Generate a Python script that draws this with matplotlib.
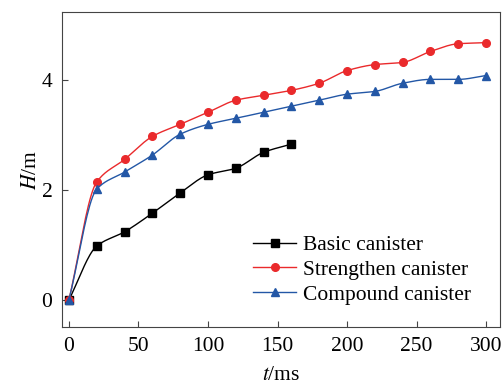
import numpy as np
import matplotlib
matplotlib.use("Agg")
import matplotlib.pyplot as plt

# data
t_basic = [0, 20, 40, 60, 80, 100, 120, 140, 160]
h_basic = [0, 0.98, 1.24, 1.58, 1.95, 2.28, 2.40, 2.69, 2.84]

t_long = [0, 20, 40, 60, 80, 100, 120, 140, 160, 180, 200, 220, 240, 260, 280, 300]
h_strength = [0, 2.15, 2.56, 2.98, 3.20, 3.42, 3.64, 3.73, 3.82, 3.95, 4.18, 4.29, 4.33, 4.53, 4.67, 4.69]
h_compound = [0, 2.02, 2.33, 2.64, 3.02, 3.20, 3.31, 3.42, 3.53, 3.64, 3.75, 3.80, 3.95, 4.02, 4.02, 4.09]

labels = ["Basic canister", "Strengthen canister", "Compound canister"]


def smooth(x, y, n=20):
    """pchip style curve through the points, only used to draw the line"""
    x = np.asarray(x, float)
    y = np.asarray(y, float)
    h = np.diff(x)
    d = np.diff(y) / h
    m = np.zeros_like(y)
    for i in range(1, len(x) - 1):
        if d[i - 1] * d[i] > 0:
            w1 = 2 * h[i] + h[i - 1]
            w2 = h[i] + 2 * h[i - 1]
            m[i] = (w1 + w2) / (w1 / d[i - 1] + w2 / d[i])
    m[0] = d[0]
    m[-1] = d[-1]
    xs, ys = [], []
    for i in range(len(x) - 1):
        s = np.linspace(0, 1, n, endpoint=False)
        h00 = 2 * s**3 - 3 * s**2 + 1
        h10 = s**3 - 2 * s**2 + s
        h01 = -2 * s**3 + 3 * s**2
        h11 = s**3 - s**2
        xs.append(x[i] + s * h[i])
        ys.append(h00 * y[i] + h10 * h[i] * m[i] + h01 * y[i + 1] + h11 * h[i] * m[i + 1])
    xs.append([x[-1]])
    ys.append([y[-1]])
    return np.concatenate(xs), np.concatenate(ys)


plt.rcParams['font.family'] = ['Liberation Serif', 'DejaVu Serif']
plt.rcParams['mathtext.fontset'] = 'stix'

fig, ax = plt.subplots(figsize=(5.04, 3.85), dpi=100)
fig.subplots_adjust(left=0.123, right=0.992, top=0.969, bottom=0.150)

series = [
    (t_basic, h_basic, 'black', 's', labels[0]),
    (t_long, h_strength, '#ea2a2c', 'o', labels[1]),
    (t_long, h_compound, '#2357a6', '^', labels[2]),
]
for tt, hh, col, mk, lab in series:
    xs, ys = smooth(tt, hh)
    ax.plot(xs, ys, color=col, lw=1.0)
    ax.plot(tt, hh, ls='none', marker=mk, color=col, ms=5.5)
    ax.plot([], [], color=col, marker=mk, ms=5.5, lw=1.0, label=lab)

ax.set_xlim(-5, 310)
ax.set_ylim(-0.5, 5.25)
ax.set_xticks([0, 50, 100, 150, 200, 250, 300])
ax.set_yticks([0, 2, 4])
ax.tick_params(direction='in', labelsize=15.5, length=4, color='#444444', pad=7)
for sp in ax.spines.values():
    sp.set_color('#444444')

ax.set_xlabel(r'$t$/ms', fontsize=15.5, labelpad=7)
ax.set_ylabel(r'$H$/m', fontsize=15.5, labelpad=0)

ax.legend(loc='lower right', frameon=False, fontsize=15.5, handlelength=2.0,
          handletextpad=0.3, labelspacing=0.22, bbox_to_anchor=(0.978, 0.01))

fig.savefig('out.png', dpi=100)
